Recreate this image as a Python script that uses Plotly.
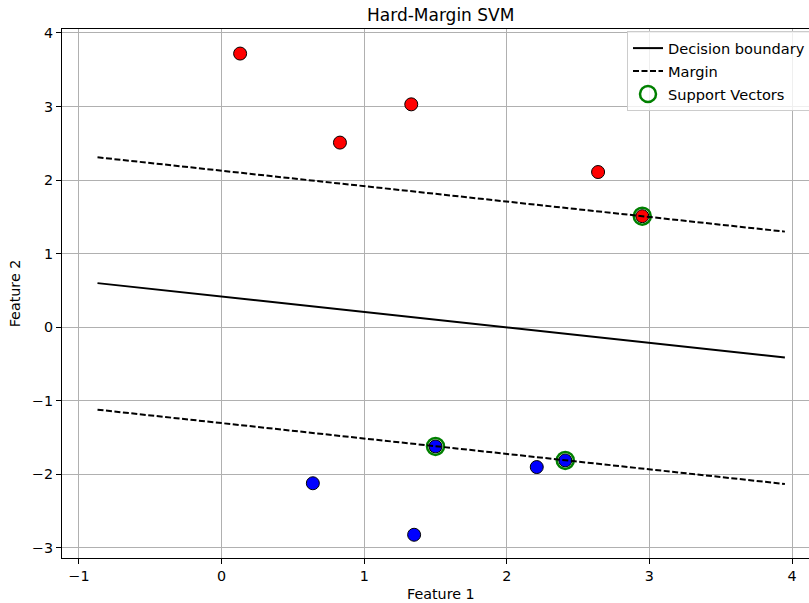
import plotly.graph_objects as go

# ---- data ----
red_x = [0.13, 0.83, 1.33, 2.64, 2.95]
red_y = [3.72, 2.51, 3.03, 2.11, 1.51]
blue_x = [0.64, 1.35, 1.50, 2.21, 2.41]
blue_y = [-2.12, -2.82, -1.62, -1.90, -1.81]
sv_x = [2.95, 1.50, 2.41]
sv_y = [1.51, -1.62, -1.81]
line_x = [-0.87, 3.95]
boundary_y = [0.60, -0.41]
margin_up_y = [2.31, 1.30]
margin_dn_y = [-1.12, -2.13]

x_ticks = [-1, 0, 1, 2, 3, 4]
x_ticktext = ["\u22121", "0", "1", "2", "3", "4"]
y_ticks = [-3, -2, -1, 0, 1, 2, 3, 4]
y_ticktext = ["\u22123", "\u22122", "\u22121", "0", "1", "2", "3", "4"]

FONT = "DejaVu Sans"
FS = 14.3

fig = go.Figure()
fig.add_trace(go.Scatter(x=red_x, y=red_y, mode="markers", showlegend=False,
                         marker=dict(color="red", size=13, line=dict(color="black", width=1))))
fig.add_trace(go.Scatter(x=blue_x, y=blue_y, mode="markers", showlegend=False,
                         marker=dict(color="blue", size=13, line=dict(color="black", width=1))))
fig.add_trace(go.Scatter(x=sv_x, y=sv_y, mode="markers", name="Support Vectors", legendrank=3,
                         legendgroup="c",
                         marker=dict(symbol="circle-open", color="green", size=17, line=dict(width=2.5))))
fig.add_trace(go.Scatter(x=line_x, y=boundary_y, mode="lines", name="Decision boundary", legendrank=1,
                         legendgroup="a", line=dict(color="black", width=2)))
fig.add_trace(go.Scatter(x=line_x, y=margin_up_y, mode="lines", name="Margin", legendrank=2,
                         legendgroup="b", line=dict(color="black", width=2, dash="6px,2.5px")))
fig.add_trace(go.Scatter(x=line_x, y=margin_dn_y, mode="lines", showlegend=False, legendgroup="b",
                         line=dict(color="black", width=2, dash="6px,2.5px")))

W, H = 809, 603
L, R, T = 62, 0, 28.5
B = H - 558
plot_w = W - L - R
ax_center = ((62 + 819) / 2 - L) / plot_w

fig.update_layout(
    width=W, height=H,
    margin=dict(l=L, r=R, t=T, b=B, autoexpand=False),
    paper_bgcolor="white", plot_bgcolor="white",
    font=dict(family=FONT, size=FS, color="black"),
    showlegend=True,
    legend=dict(x=(627 - L) / plot_w, y=0.996, xanchor="left", yanchor="top",
                bgcolor="rgba(255,255,255,0.8)", bordercolor="#cccccc", borderwidth=1,
                font=dict(family=FONT, size=14.6), tracegroupgap=1, itemwidth=30),
    xaxis=dict(range=[-1.119, 4.119], tickvals=x_ticks, ticktext=x_ticktext,
               showgrid=True, gridcolor="#b0b0b0", gridwidth=1,
               showline=True, linecolor="black", linewidth=1, mirror=True,
               ticks="outside", ticklen=5, tickcolor="black", zeroline=False),
    yaxis=dict(range=[-3.136, 4.054], tickvals=y_ticks, ticktext=y_ticktext,
               showgrid=True, gridcolor="#b0b0b0", gridwidth=1,
               showline=True, linecolor="black", linewidth=1, mirror=False,
               ticks="outside", ticklen=5, tickcolor="black", zeroline=False,
               title=dict(text="Feature 2", font=dict(size=FS), standoff=8)),
    annotations=[
        dict(text="Hard-Margin SVM", xref="paper", yref="paper",
             x=ax_center, y=1, xanchor="center", yanchor="bottom",
             yshift=2, showarrow=False, font=dict(size=17, family=FONT)),
        dict(text="Feature 1", xref="paper", yref="paper",
             x=ax_center, y=0, xanchor="center", yanchor="top",
             yshift=-26, showarrow=False, font=dict(size=FS, family=FONT)),
    ],
)

# remove the default 8px page margin so the figure fills the window exactly
fig.write_html("out.html", config={"displayModeBar": False},
               post_script="document.body.style.margin='0px';document.body.style.overflow='hidden';")
